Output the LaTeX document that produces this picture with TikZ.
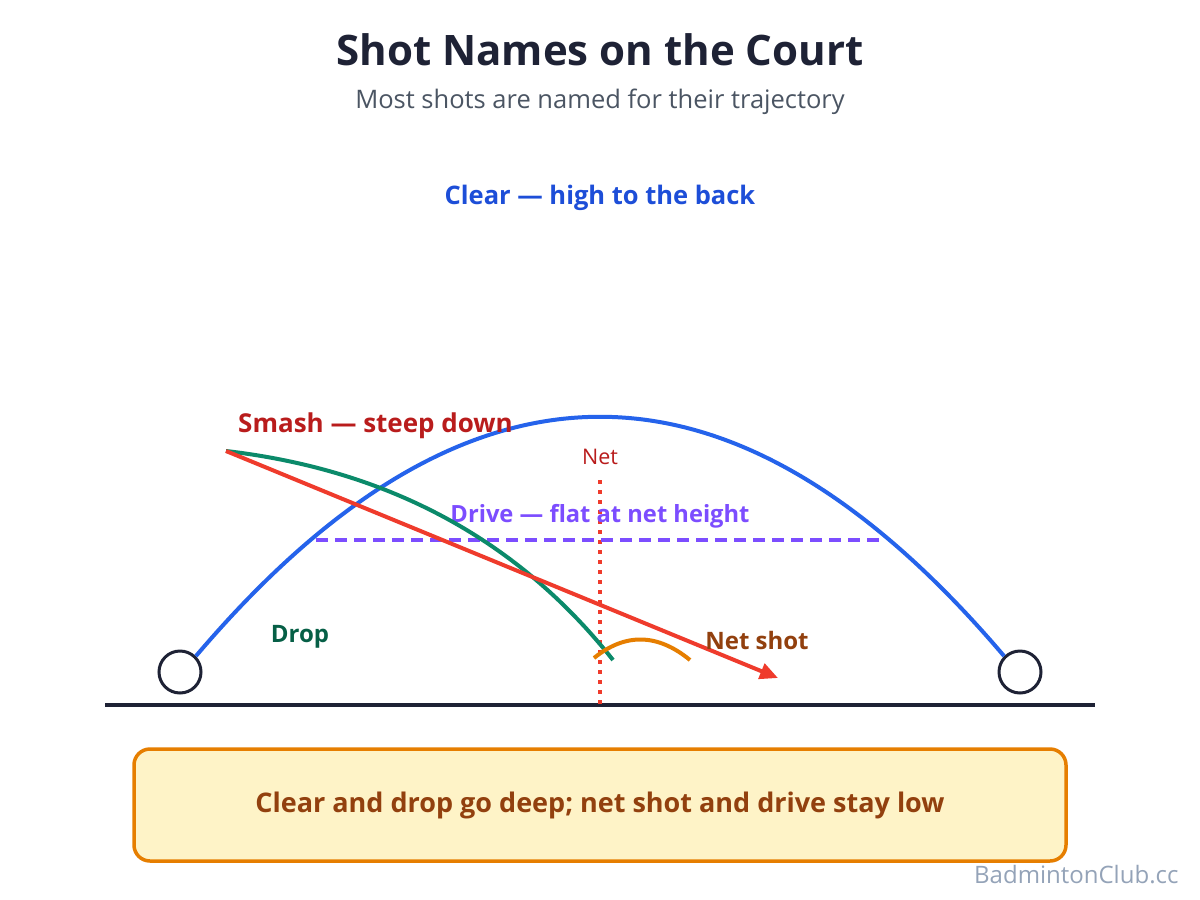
\documentclass[tikz,border=0pt]{standalone}
\usepackage{fontspec}
\setmainfont{Open Sans}
\usepackage{tikz}
\usetikzlibrary{positioning,arrows.meta,calc}

\definecolor{ink}{HTML}{1E2235}
\definecolor{subgray}{HTML}{4B5563}
\definecolor{clearblue}{HTML}{2563EB}
\definecolor{cleartext}{HTML}{1D4ED8}
\definecolor{smashred}{HTML}{EF3B2C}
\definecolor{smashtext}{HTML}{B91C1C}
\definecolor{dropgreen}{HTML}{0B8A6A}
\definecolor{droptext}{HTML}{065F46}
\definecolor{drivepurple}{HTML}{7C4DFF}
\definecolor{netorange}{HTML}{E67E00}
\definecolor{nettext}{HTML}{92400E}
\definecolor{notefill}{HTML}{FEF3C7}
\definecolor{markgray}{HTML}{94A3B8}

\tikzset{
  shotlabel/.style={font=\bfseries\fontsize{#1}{28}\selectfont, inner sep=0pt},
  shotlabel/.default=24,
  player/.style={circle, draw=ink, line width=3pt, minimum size=42pt, inner sep=0pt},
  path/.style={line width=4pt}
}

\begin{document}
\begin{tikzpicture}[x=1pt,y=-1pt]
\useasboundingbox[fill=white] (0,0) rectangle (1200,900);

% titles
\node[font=\bfseries\fontsize{42}{48}\selectfont, text=ink] (title) at (600,50) {Shot Names on the Court};
\node[font=\fontsize{25.5}{30}\selectfont, text=subgray] (subtitle) at (600,102) {Most shots are named for their trajectory};

% court
\coordinate (groundL) at (105,705);
\coordinate (groundR) at (1095,705);
\draw[ink, line width=3.5pt] (groundL) -- (groundR);
\node[player] (left) at (180,672) {};
\node[player] (right) at (1020,672) {};

% net
\coordinate (nettop) at (600,480);
\coordinate (netfoot) at (600,705);
\draw[smashred, line width=3.5pt, dash pattern=on 4pt off 6pt] (nettop) -- (netfoot);
\node[font=\fontsize{21.5}{25}\selectfont, text=smashtext] (netlabel) at (600,457) {Net};

% clear
\draw[clearblue, path] (left.45) .. controls (467,337) and (733,337) .. (right.135);
\node[shotlabel=25.5, text=cleartext] (clearlabel) at (600,198) {Clear — high to the back};

% drive
\coordinate (driveL) at (316,540);
\coordinate (driveR) at (884,540);
\draw[drivepurple, line width=3.5pt, dash pattern=on 12pt off 7pt] (driveL) -- (driveR);
\node[shotlabel=23.7, text=drivepurple] (drivelabel) at (600,516) {Drive — flat at net height};

% smash and drop
\coordinate (hit) at (226,451);
\coordinate (smashend) at (778,678);
\coordinate (dropend) at (613,660);
\draw[dropgreen, path] (hit) .. controls (389,470) and (518,540) .. (dropend);
\draw[smashred, path, -{Triangle[length=18pt,width=16pt]}] (hit) -- (smashend);
\node[shotlabel=26, text=smashtext, anchor=west] (smashlabel) at (238,426) {Smash — steep down};
\node[shotlabel, text=droptext] (droplabel) at (300,637) {Drop};

% net shot
\coordinate (netshotA) at (594,658);
\coordinate (netshotB) at (690,660);
\draw[netorange, path] (netshotA) .. controls (625,633) and (657,633) .. (netshotB);
\node[shotlabel, text=nettext] (netshotlabel) at (757,640) {Net shot};

% note
\node[draw=netorange, fill=notefill, line width=3.5pt, rounded corners=16pt,
      minimum width=932pt, minimum height=112pt, shotlabel=27, text=nettext] (note) at (600,805)
      {Clear and drop go deep; net shot and drive stay low};

\node[font=\fontsize{24}{28}\selectfont, text=markgray, anchor=east] (mark) at (1182,875) {BadmintonClub.cc};
\end{tikzpicture}
\end{document}
